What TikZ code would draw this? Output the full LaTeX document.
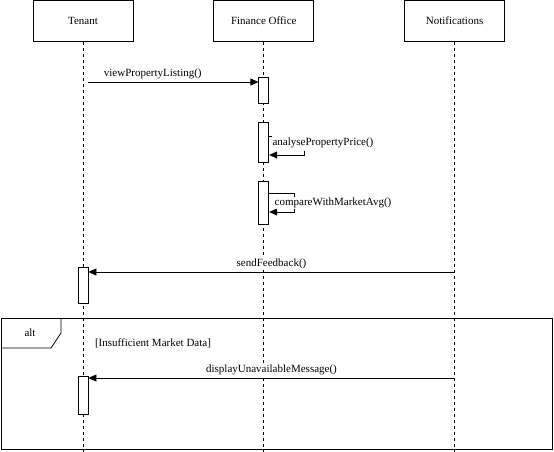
\documentclass[tikz,border=0pt]{standalone}
\usepackage{fontspec}
\setmainfont{Liberation Serif}
\usepackage{tikz}
\usetikzlibrary{arrows.meta, positioning}

\begin{document}
\begin{tikzpicture}[
    x=1pt, y=-1pt,
    node distance=80pt,
    actor/.style={draw, line width=0.8pt, minimum width=100pt, minimum height=41pt, font=\fontsize{11}{13}\selectfont},
    act/.style={draw, fill=white, line width=0.8pt, minimum width=10pt, inner sep=0pt, anchor=north},
    lifeline/.style={line width=0.8pt, dash pattern=on 3pt off 3pt},
    msg/.style={-{Triangle[length=8pt, width=7pt]}, line width=0.8pt},
    frame/.style={line width=0.8pt},
    lbl/.style={font=\fontsize{11}{13}\selectfont, inner sep=1pt, fill=white},
]
\useasboundingbox (0,0) rectangle (554,452);

\node[actor, anchor=north] (tenant) at (83,0) {Tenant};
\node[actor, right=of tenant] (finance) {Finance Office};
\node[actor, right=90pt of finance] (notif) {Notifications};

\coordinate (tenant end) at (tenant |- 0,452);
\coordinate (finance end) at (finance |- 0,452);
\coordinate (notif end) at (notif |- 0,452);
\draw[lifeline] (tenant) -- (tenant end);
\draw[lifeline] (finance) -- (finance end);
\draw[lifeline] (notif) -- (notif end);

\node[act, minimum height=26pt] (view act) at (finance |- 0,77) {};
\node[act, minimum height=40pt] (analyse act) at (finance |- 0,122) {};
\node[act, minimum height=43pt] (compare act) at (finance |- 0,181) {};
\node[act, minimum height=36pt] (feedback act) at (tenant |- 0,267) {};
\node[act, minimum height=38pt] (display act) at (tenant |- 0,376) {};

\coordinate (view start) at (88,82);
\draw[msg] (view start) -- node[lbl, above=2pt, pos=0.38] (view lbl) {viewPropertyListing()} (view start -| view act.west);

\draw[msg] ([yshift=-14pt]analyse act.north east) -- ++(35,0) -- ++(0,19) -- ([yshift=-33pt]analyse act.north east);
\node[lbl, inner ysep=3pt] (analyse lbl) at (323,143) {analysePropertyPrice()};

\draw[msg] ([yshift=-12pt]compare act.north east) -- ++(25,0) -- ++(0,19) -- ([yshift=-31pt]compare act.north east);
\node[lbl] (compare lbl) at (333,203) {compareWithMarketAvg()};

\coordinate (feedback start) at (notif |- 0,272);
\draw[msg] (feedback start) -- node[lbl, above=2pt] (feedback lbl) {sendFeedback()} (feedback start -| feedback act.east);

\coordinate (alt nw) at (1,318);
\coordinate (alt se) at (552,449);
\draw[frame] (alt nw) rectangle (alt se);
\draw[frame] (alt nw) ++(0,30) -- ++(50,0) -- ++(10,-15) -- ++(0,-15);
\node[lbl] (alt lbl) at (30,333) {alt};
\node[lbl] (guard) at (153,343) {[Insufficient Market Data]};

\coordinate (display start) at (notif |- 0,378);
\draw[msg] (display start) -- node[lbl, above=2pt] (display lbl) {displayUnavailableMessage()} (display start -| display act.east);
\end{tikzpicture}
\end{document}
